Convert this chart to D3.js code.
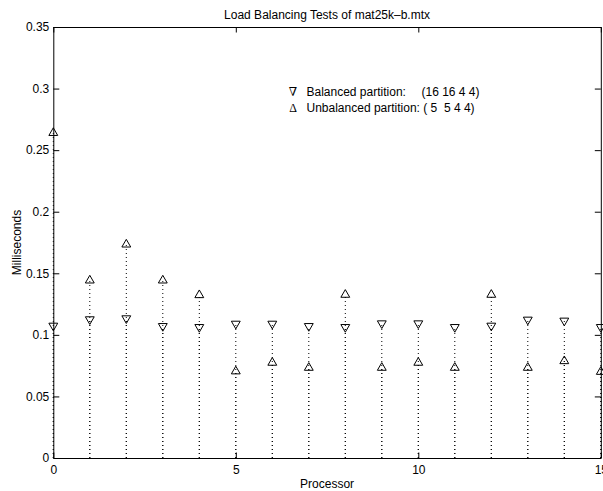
<!DOCTYPE html>
<html>
<head>
<meta charset="utf-8">
<script src="https://cdn.jsdelivr.net/npm/d3@7"></script>
<style>
  html, body { margin: 0; padding: 0; background: #fff; }
  svg { display: block; }
  text { font-family: "Liberation Sans", Arial, Helvetica, sans-serif; fill: #000; }
</style>
</head>
<body>
<div id="chart"></div>
<script>
const processors = [0, 1, 2, 3, 4, 5, 6, 7, 8, 9, 10, 11, 12, 13, 14, 15];
const balanced = [0.1074, 0.1126, 0.1134, 0.1071, 0.1063, 0.1090, 0.1090, 0.1071,
                  0.1063, 0.1093, 0.1093, 0.1063, 0.1074, 0.1123, 0.1115, 0.1063];
const unbalanced = [0.2640, 0.1442, 0.1734, 0.1442, 0.1323, 0.0704, 0.0774, 0.0733,
                    0.1326, 0.0733, 0.0774, 0.0733, 0.1326, 0.0733, 0.0787, 0.0700];
const xTicks = [0, 5, 10, 15];
const yTicks = [0, 0.05, 0.1, 0.15, 0.2, 0.25, 0.3, 0.35];
const legendLabels = ["Balanced partition:", "Unbalanced partition: ( 5  5 4 4)"];

function drawChart() {
    const width = 603;
    const height = 491;
    const margin = { top: 27, right: 2.2, bottom: 33, left: 53.3 };
    const fontSize = "12px";

    const svg = d3.select("#chart")
        .append("svg")
        .attr("width", width)
        .attr("height", height);

    const x = d3.scaleLinear()
        .domain([0, 15])
        .range([margin.left, width - margin.right]);

    const y = d3.scaleLinear()
        .domain([0, 0.35])
        .range([height - margin.bottom, margin.top]);

    const fmt = d => String(+d.toFixed(2));

    // stems (drawn first so markers sit on top)
    const stems = svg.append("g").attr("class", "stems");
    [balanced, unbalanced].forEach(series => {
        stems.selectAll(null)
            .data(processors)
            .enter()
            .append("line")
            .attr("x1", d => x(d))
            .attr("x2", d => x(d))
            .attr("y1", y(0))
            .attr("y2", d => y(series[d]))
            .attr("stroke", "#000")
            .attr("stroke-width", 1)
            .attr("stroke-dasharray", "1,3");
    });

    // axes box
    const axisStyle = g => {
        g.selectAll("path, line").attr("stroke", "#000");
        g.selectAll("text")
            .style("font-size", fontSize)
            .style("font-family", "'Liberation Sans', Arial, sans-serif")
            .attr("fill", "#000");
    };

    svg.append("g")
        .attr("transform", `translate(0,${y(0)})`)
        .call(d3.axisBottom(x).tickValues(xTicks).tickFormat(d3.format("d"))
            .tickSizeInner(-5.5).tickSizeOuter(0).tickPadding(7))
        .call(axisStyle);

    svg.append("g")
        .attr("transform", `translate(0,${y(0.35)})`)
        .call(d3.axisTop(x).tickValues(xTicks).tickFormat("")
            .tickSizeInner(-5.5).tickSizeOuter(0))
        .call(axisStyle);

    svg.append("g")
        .attr("transform", `translate(${x(0)},0)`)
        .call(d3.axisLeft(y).tickValues(yTicks).tickFormat(fmt)
            .tickSizeInner(-6).tickSizeOuter(0).tickPadding(4))
        .call(axisStyle);

    svg.append("g")
        .attr("transform", `translate(${x(15)},0)`)
        .call(d3.axisRight(y).tickValues(yTicks).tickFormat("")
            .tickSizeInner(-6).tickSizeOuter(0))
        .call(axisStyle);

    // markers
    const tri = d3.symbol().type(d3.symbolTriangle).size(34);

    svg.append("g")
        .selectAll("path")
        .data(processors)
        .enter()
        .append("path")
        .attr("d", tri)
        .attr("transform", d => `translate(${x(d)},${y(balanced[d])}) rotate(180)`)
        .attr("fill", "none")
        .attr("stroke", "#000")
        .attr("stroke-width", 1);

    svg.append("g")
        .selectAll("path")
        .data(processors)
        .enter()
        .append("path")
        .attr("d", tri)
        .attr("transform", d => `translate(${x(d)},${y(unbalanced[d])})`)
        .attr("fill", "none")
        .attr("stroke", "#000")
        .attr("stroke-width", 1);

    // title and axis labels
    svg.append("text")
        .attr("x", (x(0) + x(15)) / 2)
        .attr("y", 18.5)
        .attr("text-anchor", "middle")
        .style("font-size", fontSize)
        .text("Load Balancing Tests of mat25k\u2013b.mtx");

    svg.append("text")
        .attr("x", (x(0) + x(15)) / 2)
        .attr("y", 487.5)
        .attr("text-anchor", "middle")
        .style("font-size", fontSize)
        .text("Processor");

    svg.append("text")
        .attr("transform", `translate(21,${(y(0) + y(0.35)) / 2}) rotate(-90)`)
        .attr("text-anchor", "middle")
        .style("font-size", fontSize)
        .text("Milliseconds");

    // legend
    const legend = svg.append("g");
    const row1 = 96, row2 = 111.5;
    legend.append("text")
        .attr("x", 293).attr("y", row1)
        .attr("text-anchor", "middle")
        .style("font-family", "'Liberation Serif', 'DejaVu Serif', serif")
        .style("font-size", fontSize)
        .text("\u2207");
    legend.append("text")
        .attr("x", 293).attr("y", row2)
        .attr("text-anchor", "middle")
        .style("font-family", "'Liberation Serif', 'DejaVu Serif', serif")
        .style("font-size", fontSize)
        .text("\u0394");
    legend.append("text")
        .attr("x", 306.5).attr("y", row1)
        .style("font-size", fontSize)
        .text(legendLabels[0]);
    legend.append("text")
        .attr("x", 421.5).attr("y", row1)
        .style("font-size", fontSize)
        .text("(16 16 4 4)");
    legend.append("text")
        .attr("x", 306.5).attr("y", row2)
        .style("font-size", fontSize)
        .style("white-space", "pre")
        .text(legendLabels[1]);
}

drawChart();
</script>
</body>
</html>
